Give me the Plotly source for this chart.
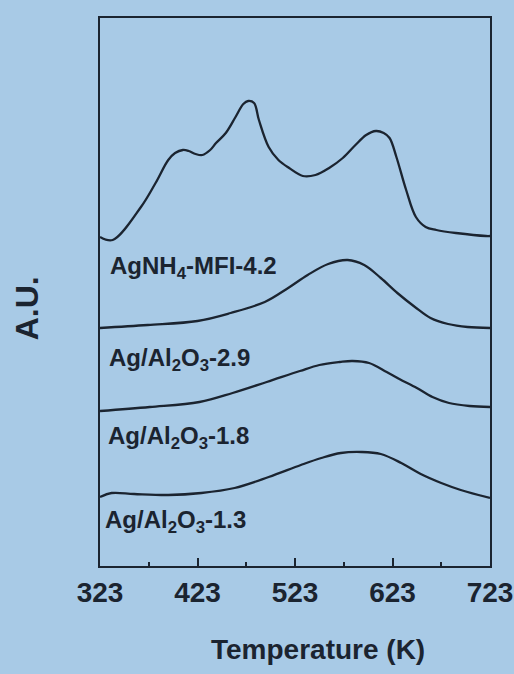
import plotly.graph_objects as go

# Temperature (K) and intensity (A.U., vertically offset) for each profile
series_names = ["AgNH<sub>4</sub>-MFI-4.2", "Ag/Al<sub>2</sub>O<sub>3</sub>-2.9",
                "Ag/Al<sub>2</sub>O<sub>3</sub>-1.8", "Ag/Al<sub>2</sub>O<sub>3</sub>-1.3"]

t_mfi = [323, 336, 365, 380, 393, 400, 408, 414, 421, 428, 436, 442, 452, 462, 470, 475, 481,
         486, 496, 506, 517, 531, 544, 558, 572, 585, 596, 606, 614, 620, 627, 637, 647, 657,
         668, 688, 719, 723]
y_mfi = [3.29, 3.26, 3.59, 3.83, 4.06, 4.13, 4.16, 4.15, 4.12, 4.11, 4.16, 4.23, 4.33, 4.49,
         4.62, 4.65, 4.63, 4.46, 4.19, 4.06, 3.98, 3.90, 3.91, 3.98, 4.08, 4.21, 4.31, 4.35,
         4.33, 4.28, 4.09, 3.76, 3.49, 3.39, 3.36, 3.33, 3.30, 3.30]

t_29 = [323, 372, 423, 457, 492, 516, 536, 557, 577, 594, 611, 628, 646, 662, 680, 700, 723]
y_29 = [2.38, 2.41, 2.45, 2.53, 2.64, 2.78, 2.91, 3.02, 3.06, 3.01, 2.88, 2.73, 2.59, 2.48,
        2.42, 2.39, 2.38]

t_18 = [323, 374, 425, 459, 494, 528, 548, 569, 582, 599, 617, 630, 648, 664, 681, 702, 723]
y_18 = [1.55, 1.59, 1.64, 1.73, 1.84, 1.95, 2.01, 2.04, 2.05, 2.03, 1.94, 1.87, 1.78, 1.69,
        1.63, 1.60, 1.59]

t_13 = [323, 335, 358, 393, 427, 461, 496, 529, 550, 570, 591, 611, 632, 652, 673, 693, 723]
y_13 = [0.69, 0.73, 0.72, 0.71, 0.73, 0.78, 0.89, 1.01, 1.08, 1.13, 1.14, 1.12, 1.03, 0.92,
        0.83, 0.76, 0.68]

x_ticks = [323, 423, 523, 623, 723]

series = [(t_mfi, y_mfi), (t_29, y_29), (t_18, y_18), (t_13, y_13)]
label_pos = [(331, 2.99), (330, 2.07), (329, 1.29), (326, 0.45)]

BG = "#a8cae6"
INK = "#1b2430"
FONT = "Arial, Liberation Sans, sans-serif"

fig = go.Figure()
for (t, y), name in zip(series, series_names):
    fig.add_trace(go.Scatter(x=t, y=y, mode="lines", name=name,
                             line=dict(color=INK, width=2.3, shape="spline", smoothing=1.0),
                             showlegend=False, hoverinfo="skip"))

for (lx, ly), name in zip(label_pos, series_names):
    fig.add_annotation(x=lx, y=ly, xref="x", yref="y", text=name, showarrow=False,
                       xanchor="left", yanchor="middle",
                       font=dict(family=FONT, size=24, color=INK, weight="bold"))

fig.add_annotation(x=-0.185, y=0.47, xref="paper", yref="paper", text="A.U.",
                   textangle=-90, showarrow=False, xanchor="center", yanchor="middle",
                   font=dict(family=FONT, size=32, color=INK, weight="bold"))
fig.add_annotation(x=0.56, y=-0.153, xref="paper", yref="paper", text="Temperature (K)",
                   showarrow=False, xanchor="center", yanchor="middle",
                   font=dict(family=FONT, size=28, color=INK, weight="bold"))

fig.update_layout(
    width=514, height=674,
    margin=dict(l=100, r=24, t=18, b=108, autoexpand=False),
    paper_bgcolor=BG, plot_bgcolor=BG,
    xaxis=dict(range=[323, 723], tickvals=x_ticks, ticktext=[str(v) for v in x_ticks],
               ticks="inside", ticklen=8, tickwidth=2, tickcolor=INK,
               minor=dict(ticks="inside", ticklen=4, tickwidth=2, tickcolor=INK, dtick=50, tick0=323),
               showline=True, linecolor=INK, linewidth=2, mirror=True, automargin=False,
               showgrid=False, zeroline=False, ticklabelstandoff=0,
               tickfont=dict(family=FONT, size=28, color=INK, weight="bold")),
    yaxis=dict(range=[0, 5.48], showticklabels=False, ticks="", automargin=False,
               showline=True, linecolor=INK, linewidth=2, mirror=True,
               showgrid=False, zeroline=False),
)

fig.write_html("out.html")
